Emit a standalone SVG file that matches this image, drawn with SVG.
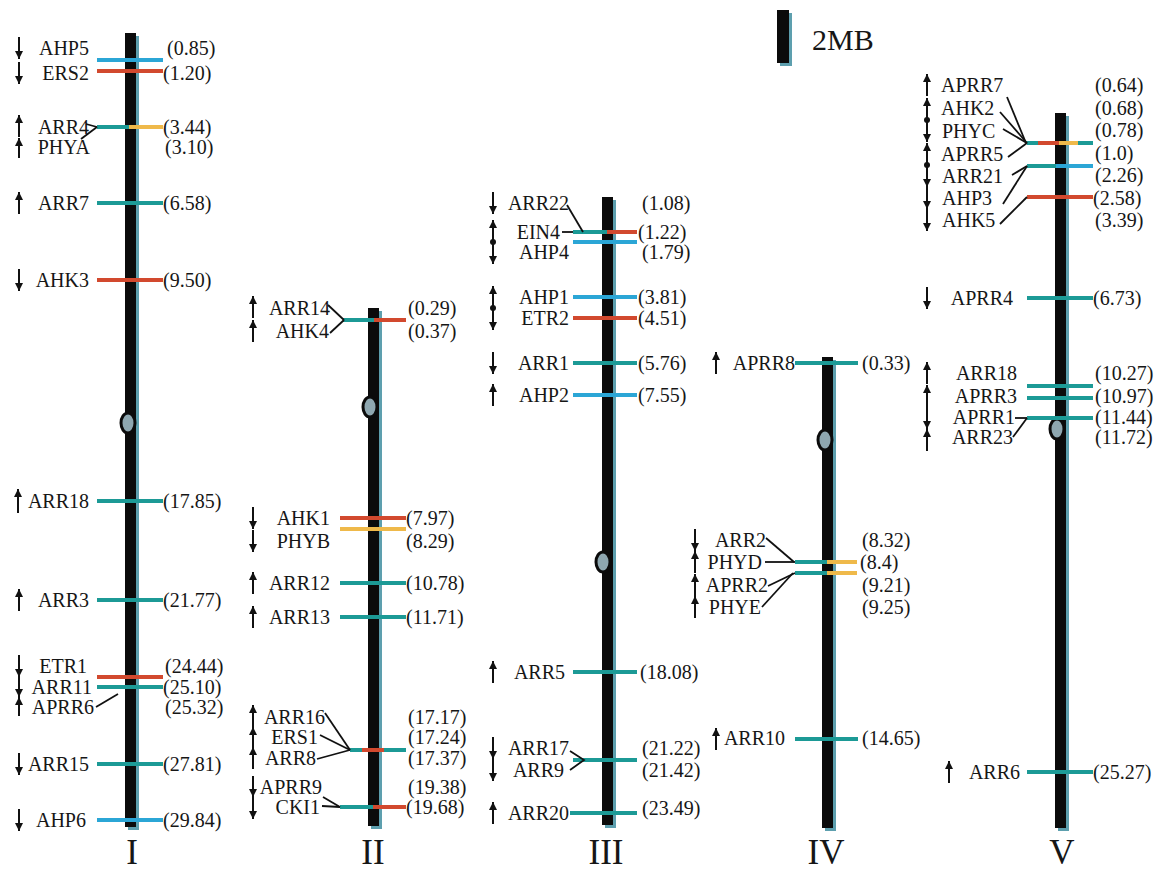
<svg xmlns="http://www.w3.org/2000/svg" width="1166" height="870" viewBox="0 0 1166 870">
<defs>
<marker id="ah" markerUnits="userSpaceOnUse" markerWidth="8" markerHeight="9" viewBox="0 0 8 8" refX="8" refY="4" orient="auto"><path d="M0,0 L8,4 L0,8 z" fill="#111"/></marker>
<style>
text{font-family:"Liberation Serif","Times New Roman",serif;fill:#161616}
.l{font-size:20px;text-anchor:end}
.ls{font-size:20px;text-anchor:start}
.p{font-size:20px;text-anchor:start}
.c{font-size:35px;text-anchor:middle}
.m{stroke-width:4;fill:none}
.t{stroke:#1c9a96}.r{stroke:#d2492e}.b{stroke:#2ba6d6}.o{stroke:#efb94a}
.a{stroke:#111;stroke-width:2;marker-end:url(#ah)}
.cn{stroke:#111;stroke-width:1.8;fill:none}
.bar{fill:#0b0b0b}.sh{fill:#5d9fae}
.cen{fill:#8ea7b0;stroke:#0b0b0b;stroke-width:3}
.dot{fill:#111}
</style>
</defs>
<rect width="1166" height="870" fill="#ffffff"/>

<g id="scale">
<rect class="sh" x="780" y="13" width="12" height="53"/>
<rect class="bar" x="777" y="10" width="12" height="53"/>
<text x="812" y="50" style="font-size:30px">2MB</text>
</g>

<g id="chrI">
<rect class="sh" x="128" y="36" width="11" height="794"/>
<rect class="bar" x="125" y="33" width="11" height="794"/>
<ellipse class="cen" cx="128" cy="423" rx="7" ry="10"/>
<line class="m b" x1="97" y1="60" x2="163" y2="60"/>
<line class="m r" x1="97" y1="71" x2="163" y2="71"/>
<line class="m t" x1="97" y1="127" x2="129" y2="127"/>
<line class="m o" x1="129" y1="127" x2="163" y2="127"/>
<line class="m t" x1="97" y1="203" x2="163" y2="203"/>
<line class="m r" x1="97" y1="280" x2="163" y2="280"/>
<line class="m t" x1="97" y1="501" x2="163" y2="501"/>
<line class="m t" x1="97" y1="600" x2="163" y2="600"/>
<line class="m r" x1="97" y1="677" x2="163" y2="677"/>
<line class="m t" x1="97" y1="687" x2="163" y2="687"/>
<line class="m t" x1="97" y1="764" x2="163" y2="764"/>
<line class="m b" x1="97" y1="820" x2="163" y2="820"/>
<text class="l" x="89" y="55">AHP5</text>
<text class="l" x="89" y="80">ERS2</text>
<text class="l" x="89" y="134">ARR4</text>
<text class="l" x="90" y="154">PHYA</text>
<text class="l" x="89" y="210">ARR7</text>
<text class="l" x="89" y="287">AHK3</text>
<text class="l" x="89" y="508">ARR18</text>
<text class="l" x="89" y="607">ARR3</text>
<text class="l" x="87" y="673">ETR1</text>
<text class="l" x="92" y="694">ARR11</text>
<text class="l" x="94" y="714">APRR6</text>
<text class="l" x="89" y="771">ARR15</text>
<text class="l" x="86" y="827">AHP6</text>
<text class="p" x="167" y="55">(0.85)</text>
<text class="p" x="163" y="80">(1.20)</text>
<text class="p" x="163" y="134">(3.44)</text>
<text class="p" x="165" y="154">(3.10)</text>
<text class="p" x="163" y="210">(6.58)</text>
<text class="p" x="163" y="287">(9.50)</text>
<text class="p" x="163" y="508">(17.85)</text>
<text class="p" x="163" y="607">(21.77)</text>
<text class="p" x="165" y="673">(24.44)</text>
<text class="p" x="163" y="694">(25.10)</text>
<text class="p" x="165" y="714">(25.32)</text>
<text class="p" x="163" y="771">(27.81)</text>
<text class="p" x="163" y="827">(29.84)</text>
<text class="c" x="132" y="864">I</text>
</g>

<g id="chrII">
<rect class="sh" x="371" y="311" width="11" height="518"/>
<rect class="bar" x="368" y="308" width="11" height="518"/>
<ellipse class="cen" cx="370" cy="407" rx="7" ry="10"/>
<line class="m t" x1="343" y1="320" x2="374" y2="320"/>
<line class="m r" x1="374" y1="320" x2="406" y2="320"/>
<line class="m r" x1="340" y1="518" x2="406" y2="518"/>
<line class="m o" x1="340" y1="529" x2="406" y2="529"/>
<line class="m t" x1="340" y1="583" x2="406" y2="583"/>
<line class="m t" x1="340" y1="617" x2="406" y2="617"/>
<line class="m t" x1="350" y1="750" x2="362" y2="750"/>
<line class="m r" x1="362" y1="750" x2="384" y2="750"/>
<line class="m t" x1="384" y1="750" x2="406" y2="750"/>
<line class="m t" x1="340" y1="807" x2="373" y2="807"/>
<line class="m r" x1="373" y1="807" x2="406" y2="807"/>
<text class="l" x="330" y="315">ARR14</text>
<text class="l" x="329" y="338">AHK4</text>
<text class="l" x="330" y="525">AHK1</text>
<text class="l" x="330" y="548">PHYB</text>
<text class="l" x="330" y="590">ARR12</text>
<text class="l" x="330" y="624">ARR13</text>
<text class="l" x="325" y="724">ARR16</text>
<text class="l" x="318" y="744">ERS1</text>
<text class="l" x="316" y="765">ARR8</text>
<text class="l" x="322" y="794">APRR9</text>
<text class="l" x="320" y="814">CKI1</text>
<text class="p" x="408" y="315">(0.29)</text>
<text class="p" x="408" y="338">(0.37)</text>
<text class="p" x="406" y="525">(7.97)</text>
<text class="p" x="406" y="548">(8.29)</text>
<text class="p" x="406" y="590">(10.78)</text>
<text class="p" x="406" y="624">(11.71)</text>
<text class="p" x="408" y="724">(17.17)</text>
<text class="p" x="408" y="744">(17.24)</text>
<text class="p" x="408" y="765">(17.37)</text>
<text class="p" x="408" y="794">(19.38)</text>
<text class="p" x="406" y="814">(19.68)</text>
<text class="c" x="373" y="864">II</text>
</g>

<g id="chrIII">
<rect class="sh" x="605" y="200" width="11" height="628"/>
<rect class="bar" x="602" y="197" width="11" height="628"/>
<ellipse class="cen" cx="603" cy="562" rx="7" ry="10"/>
<line class="m t" x1="573" y1="232" x2="607" y2="232"/>
<line class="m r" x1="607" y1="232" x2="637" y2="232"/>
<line class="m b" x1="573" y1="242" x2="637" y2="242"/>
<line class="m b" x1="573" y1="297" x2="637" y2="297"/>
<line class="m r" x1="573" y1="318" x2="637" y2="318"/>
<line class="m t" x1="573" y1="363" x2="637" y2="363"/>
<line class="m b" x1="573" y1="395" x2="637" y2="395"/>
<line class="m t" x1="573" y1="672" x2="637" y2="672"/>
<line class="m t" x1="573" y1="760" x2="637" y2="760"/>
<line class="m t" x1="570" y1="813" x2="637" y2="813"/>
<text class="l" x="569" y="210">ARR22</text>
<text class="l" x="560" y="239">EIN4</text>
<text class="l" x="569" y="259">AHP4</text>
<text class="l" x="569" y="304">AHP1</text>
<text class="l" x="569" y="325">ETR2</text>
<text class="l" x="569" y="370">ARR1</text>
<text class="l" x="569" y="402">AHP2</text>
<text class="l" x="565" y="679">ARR5</text>
<text class="l" x="569" y="755">ARR17</text>
<text class="l" x="564" y="777">ARR9</text>
<text class="l" x="569" y="820">ARR20</text>
<text class="p" x="642" y="210">(1.08)</text>
<text class="p" x="638" y="239">(1.22)</text>
<text class="p" x="642" y="259">(1.79)</text>
<text class="p" x="638" y="304">(3.81)</text>
<text class="p" x="638" y="325">(4.51)</text>
<text class="p" x="638" y="370">(5.76)</text>
<text class="p" x="638" y="402">(7.55)</text>
<text class="p" x="640" y="679">(18.08)</text>
<text class="p" x="642" y="755">(21.22)</text>
<text class="p" x="642" y="777">(21.42)</text>
<text class="p" x="642" y="815">(23.49)</text>
<text class="c" x="606" y="864">III</text>
</g>

<g id="chrIV">
<rect class="sh" x="825" y="360" width="11" height="471"/>
<rect class="bar" x="822" y="357" width="11" height="471"/>
<ellipse class="cen" cx="825" cy="440" rx="7" ry="10"/>
<line class="m t" x1="795" y1="363" x2="858" y2="363"/>
<line class="m t" x1="795" y1="562" x2="827" y2="562"/>
<line class="m o" x1="827" y1="562" x2="857" y2="562"/>
<line class="m t" x1="795" y1="573" x2="827" y2="573"/>
<line class="m o" x1="827" y1="573" x2="857" y2="573"/>
<line class="m t" x1="795" y1="739" x2="858" y2="739"/>
<text class="l" x="795" y="370">APRR8</text>
<text class="l" x="766" y="547">ARR2</text>
<text class="l" x="762" y="569">PHYD</text>
<text class="l" x="768" y="592">APRR2</text>
<text class="l" x="761" y="614">PHYE</text>
<text class="l" x="785" y="745">ARR10</text>
<text class="p" x="862" y="370">(0.33)</text>
<text class="p" x="862" y="547">(8.32)</text>
<text class="p" x="860" y="569">(8.4)</text>
<text class="p" x="862" y="592">(9.21)</text>
<text class="p" x="862" y="614">(9.25)</text>
<text class="p" x="862" y="745">(14.65)</text>
<text class="c" x="826" y="864">IV</text>
</g>

<g id="chrV">
<rect class="sh" x="1058" y="116" width="11" height="715"/>
<rect class="bar" x="1055" y="113" width="11" height="715"/>
<ellipse class="cen" cx="1057" cy="429" rx="7" ry="10"/>
<line class="m t" x1="1027" y1="143" x2="1038" y2="143"/>
<line class="m r" x1="1038" y1="143" x2="1059" y2="143"/>
<line class="m o" x1="1059" y1="143" x2="1078" y2="143"/>
<line class="m t" x1="1078" y1="143" x2="1093" y2="143"/>
<line class="m t" x1="1027" y1="166" x2="1056" y2="166"/>
<line class="m b" x1="1056" y1="166" x2="1093" y2="166"/>
<line class="m r" x1="1027" y1="197" x2="1093" y2="197"/>
<line class="m t" x1="1027" y1="298" x2="1093" y2="298"/>
<line class="m t" x1="1027" y1="386" x2="1093" y2="386"/>
<line class="m t" x1="1027" y1="398" x2="1093" y2="398"/>
<line class="m t" x1="1027" y1="418" x2="1093" y2="418"/>
<line class="m t" x1="1027" y1="772" x2="1093" y2="772"/>
<text class="ls" x="941" y="92">APRR7</text>
<text class="ls" x="941" y="115">AHK2</text>
<text class="ls" x="942" y="138">PHYC</text>
<text class="ls" x="941" y="161">APRR5</text>
<text class="ls" x="942" y="183">ARR21</text>
<text class="ls" x="942" y="205">AHP3</text>
<text class="ls" x="942" y="227">AHK5</text>
<text class="l" x="1013" y="305">APRR4</text>
<text class="l" x="1017" y="380">ARR18</text>
<text class="l" x="1017" y="403">APRR3</text>
<text class="l" x="1015" y="424">APRR1</text>
<text class="l" x="1013" y="444">ARR23</text>
<text class="l" x="1020" y="779">ARR6</text>
<text class="p" x="1095" y="92">(0.64)</text>
<text class="p" x="1095" y="115">(0.68)</text>
<text class="p" x="1095" y="137">(0.78)</text>
<text class="p" x="1095" y="160">(1.0)</text>
<text class="p" x="1095" y="182">(2.26)</text>
<text class="p" x="1093" y="205">(2.58)</text>
<text class="p" x="1095" y="227">(3.39)</text>
<text class="p" x="1093" y="305">(6.73)</text>
<text class="p" x="1095" y="380">(10.27)</text>
<text class="p" x="1095" y="403">(10.97)</text>
<text class="p" x="1095" y="424">(11.44)</text>
<text class="p" x="1095" y="444">(11.72)</text>
<text class="p" x="1093" y="779">(25.27)</text>
<text class="c" x="1062" y="864">V</text>
</g>

<g id="orientation-arrows">
<line class="a" x1="19" y1="37" x2="19" y2="59"/>
<line class="a" x1="19" y1="62" x2="19" y2="84"/>
<line class="a" x1="19" y1="137" x2="19" y2="115"/>
<line class="a" x1="19" y1="158" x2="19" y2="138"/>
<line class="a" x1="19" y1="214" x2="19" y2="192"/>
<line class="a" x1="19" y1="269" x2="19" y2="291"/>
<line class="a" x1="18" y1="513" x2="18" y2="489"/>
<line class="a" x1="19" y1="611" x2="19" y2="589"/>
<line class="a" x1="19" y1="655" x2="19" y2="677"/>
<line class="a" x1="19" y1="677" x2="19" y2="697"/>
<line class="a" x1="19" y1="716" x2="19" y2="697"/>
<line class="a" x1="19" y1="753" x2="19" y2="775"/>
<line class="a" x1="19" y1="809" x2="19" y2="831"/>

<line class="a" x1="253" y1="318" x2="253" y2="296"/>
<line class="a" x1="253" y1="342" x2="253" y2="320"/>
<line class="a" x1="253" y1="507" x2="253" y2="529"/>
<line class="a" x1="253" y1="530" x2="253" y2="552"/>
<line class="a" x1="253" y1="594" x2="253" y2="572"/>
<line class="a" x1="253" y1="628" x2="253" y2="606"/>
<line class="a" x1="253" y1="727" x2="253" y2="705"/>
<line class="a" x1="253" y1="747" x2="253" y2="727"/>
<line class="a" x1="253" y1="769" x2="253" y2="747"/>
<line class="a" x1="253" y1="776" x2="253" y2="797"/>
<line class="a" x1="253" y1="797" x2="253" y2="819"/>

<line class="a" x1="493" y1="192" x2="493" y2="214"/>
<line class="a" x1="493" y1="242" x2="493" y2="220"/>
<line class="a" x1="493" y1="242" x2="493" y2="264"/>
<line class="a" x1="493" y1="308" x2="493" y2="286"/>
<line class="a" x1="493" y1="308" x2="493" y2="330"/>
<line class="a" x1="493" y1="352" x2="493" y2="374"/>
<line class="a" x1="493" y1="406" x2="493" y2="384"/>
<line class="a" x1="493" y1="683" x2="493" y2="661"/>
<line class="a" x1="493" y1="737" x2="493" y2="759"/>
<line class="a" x1="493" y1="759" x2="493" y2="781"/>
<line class="a" x1="493" y1="824" x2="493" y2="802"/>
<circle class="dot" cx="493" cy="242" r="3"/>
<circle class="dot" cx="493" cy="308" r="3"/>

<line class="a" x1="716" y1="374" x2="716" y2="352"/>
<line class="a" x1="695" y1="529" x2="695" y2="551"/>
<line class="a" x1="695" y1="573" x2="695" y2="551"/>
<line class="a" x1="695" y1="596" x2="695" y2="574"/>
<line class="a" x1="695" y1="618" x2="695" y2="596"/>
<line class="a" x1="716" y1="750" x2="716" y2="728"/>

<line class="a" x1="927" y1="96" x2="927" y2="74"/>
<line class="a" x1="927" y1="120" x2="927" y2="98"/>
<line class="a" x1="927" y1="120" x2="927" y2="142"/>
<line class="a" x1="927" y1="165" x2="927" y2="143"/>
<line class="a" x1="927" y1="165" x2="927" y2="187"/>
<line class="a" x1="927" y1="187" x2="927" y2="209"/>
<line class="a" x1="927" y1="209" x2="927" y2="231"/>
<circle class="dot" cx="927" cy="120" r="3"/>
<circle class="dot" cx="927" cy="165" r="3"/>
<line class="a" x1="927" y1="287" x2="927" y2="309"/>
<line class="a" x1="927" y1="384" x2="927" y2="362"/>
<line class="a" x1="927" y1="407" x2="927" y2="385"/>
<line class="a" x1="927" y1="407" x2="927" y2="429"/>
<line class="a" x1="927" y1="451" x2="927" y2="429"/>
<line class="a" x1="949" y1="783" x2="949" y2="761"/>
</g>

<g id="connectors">
<line class="cn" x1="86" y1="124" x2="97" y2="127"/>
<line class="cn" x1="97" y1="127" x2="81" y2="139"/>
<line class="cn" x1="96" y1="707" x2="118" y2="694"/>

<line class="cn" x1="328" y1="305" x2="344" y2="320"/>
<line class="cn" x1="330" y1="333" x2="344" y2="320"/>
<line class="cn" x1="325" y1="713" x2="350" y2="750"/>
<line class="cn" x1="320" y1="735" x2="350" y2="750"/>
<line class="cn" x1="317" y1="759" x2="350" y2="750"/>
<line class="cn" x1="323" y1="797" x2="340" y2="807"/>
<line class="cn" x1="322" y1="806" x2="340" y2="807"/>

<line class="cn" x1="567" y1="205" x2="583" y2="232"/>
<line class="cn" x1="562" y1="232" x2="573" y2="232"/>
<polyline class="cn" points="570,751 584,760 570,770"/>

<line class="cn" x1="766" y1="538" x2="794" y2="562"/>
<line class="cn" x1="765" y1="562" x2="795" y2="562"/>
<line class="cn" x1="768" y1="586" x2="795" y2="573"/>
<line class="cn" x1="762" y1="607" x2="793" y2="573"/>

<line class="cn" x1="1007" y1="97" x2="1026" y2="143"/>
<line class="cn" x1="1000" y1="112" x2="1027" y2="143"/>
<line class="cn" x1="1003" y1="129" x2="1027" y2="143"/>
<line class="cn" x1="1008" y1="157" x2="1027" y2="143"/>
<line class="cn" x1="1012" y1="175" x2="1027" y2="166"/>
<line class="cn" x1="1003" y1="204" x2="1027" y2="166"/>
<line class="cn" x1="1000" y1="224" x2="1027" y2="197"/>
<line class="cn" x1="1015" y1="418" x2="1027" y2="418"/>
<line class="cn" x1="1013" y1="437" x2="1027" y2="418"/>
</g>
</svg>
